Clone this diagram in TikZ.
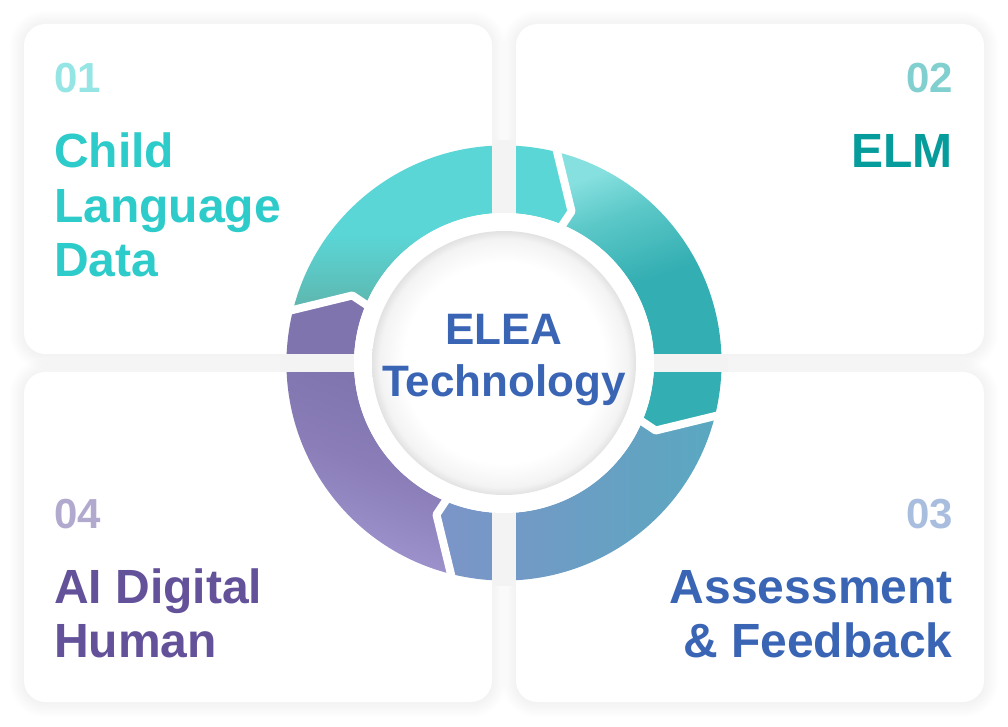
\documentclass[tikz,border=0pt]{standalone}
\usepackage{fontspec}
\setmainfont{Liberation Sans}
\definecolor{cA}{HTML}{95E5E5}
\definecolor{cAt}{HTML}{2ECBCB}
\definecolor{cB}{HTML}{82CFCF}
\definecolor{cBt}{HTML}{079C9C}
\definecolor{cC}{HTML}{A9BEDE}
\definecolor{cCt}{HTML}{3A65B5}
\definecolor{cD}{HTML}{B2A9CF}
\definecolor{cDt}{HTML}{63519A}
\definecolor{gapgray}{HTML}{F3F3F3}
\definecolor{rimgray}{HTML}{E2E2E2}
\definecolor{s1a}{HTML}{5AD6D6}
\definecolor{s1b}{HTML}{5CC6C2}
\definecolor{s1c}{HTML}{5EB3AA}
\definecolor{s2a}{HTML}{86E0DF}
\definecolor{s2b}{HTML}{5CC8C8}
\definecolor{s2c}{HTML}{33AEB2}
\definecolor{s3a}{HTML}{7C94C8}
\definecolor{s3b}{HTML}{5AA8C0}
\definecolor{s4a}{HTML}{7F74AE}
\definecolor{s4b}{HTML}{8A7DB8}
\definecolor{s4c}{HTML}{A298D2}
\pgfdeclareradialshading{discshade}{\pgfpoint{0bp}{0bp}}{color(0bp)=(white); color(19bp)=(white); color(23.5bp)=(white!60!rimgray); color(25bp)=(rimgray); color(50bp)=(rimgray)}
\pgfdeclareverticalshading{segone}{100bp}{color(0bp)=(s1c); color(25bp)=(s1c); color(36bp)=(s1b); color(46bp)=(s1a); color(100bp)=(s1a)}
\pgfdeclareverticalshading{segtwo}{100bp}{color(0bp)=(s2c); color(25bp)=(s2c); color(52bp)=(s2c); color(66bp)=(s2b); color(75bp)=(s2a); color(100bp)=(s2a)}
\pgfdeclareverticalshading{segfour}{100bp}{color(0bp)=(s4c); color(25bp)=(s4c); color(45bp)=(s4b); color(62bp)=(s4a); color(100bp)=(s4a)}
\newcommand\segpath[2]{(#1-13:217.5) arc[start angle=#1-13, end angle=#2-13, radius=217.5] -- (#2-24:166) -- (#2-22.5:150) arc[start angle=#2-22.5, end angle=#1-22.5, radius=150] -- (#1-24:166) -- cycle}
\begin{document}
\begin{tikzpicture}[x=0.75pt,y=0.75pt,
  card/.style={fill=white, rounded corners=16pt},
  sepline/.style={draw=white, line width=6pt, line join=round},
  numtxt/.style={inner sep=0pt, font=\fontsize{31.5}{36}\selectfont\bfseries},
  bigtxt/.style={inner sep=0pt, font=\fontsize{36}{40}\selectfont\bfseries},
  centxt/.style={inner sep=0pt, text=cCt, font=\fontsize{33}{38}\selectfont\bfseries}]
\useasboundingbox (0,0) rectangle (1008,726);
\fill[white] (0,0) rectangle (1008,726);
% soft card shadows
\foreach \k in {1,...,12}{
  \pgfmathsetmacro\rr{16+0.9*\k}
  \foreach \xa/\ya/\xb/\yb in {24/372/492/702, 516/372/984/702, 24/24/492/354, 516/24/984/354}{
    \fill[black, fill opacity=0.005, rounded corners=\rr pt] (\xa-1.2*\k,\ya-1.2*\k-1) rectangle (\xb+1.2*\k,\yb+1.2*\k-1);
  }
}
% cards
\path[card] (24,372) rectangle (492,702);
\path[card] (516,372) rectangle (984,702);
\path[card] (24,24) rectangle (492,354);
\path[card] (516,24) rectangle (984,354);
% ring
\begin{scope}[shift={(504,363)}]
  \shade[shading=segone] \segpath{180}{90};
  \shade[shading=segtwo, shading angle=20] \segpath{90}{0};
  \shade[left color=s3a, right color=s3b] \segpath{0}{-90};
  \shade[shading=segfour, shading angle=-20] \segpath{-90}{-180};
  \foreach \a in {90,0,-90,180}{
    \draw[sepline] (\a-13:226) -- (\a-24:166) -- (\a-22.5:144);
  }
\end{scope}
% gaps across the ring
\fill[gapgray] (492,140) rectangle (516,586);
\fill[gapgray] (280,354) rectangle (728,372);
% centre
\fill[white] (504,363) circle (150);
\shade[shading=discshade] (504,363) circle (132);
\node[centxt, anchor=base] (elea) at (504,381) {ELEA};
\node[centxt, anchor=base] (tech) at (504,329.3) {Technology};
% texts
\node[numtxt, text=cA, anchor=base west] (n1) at (54,633) {01};
\node[bigtxt, text=cAt, anchor=base west] (t1a) at (54,558) {Child};
\node[bigtxt, text=cAt, anchor=base west] (t1b) at (54,503.3) {Language};
\node[bigtxt, text=cAt, anchor=base west] (t1c) at (54,449.3) {Data};
\node[numtxt, text=cB, anchor=base east] (n2) at (953,633) {02};
\node[bigtxt, text=cBt, anchor=base east] (t2a) at (953,558) {ELM};
\node[numtxt, text=cC, anchor=base east] (n3) at (953,198) {03};
\node[bigtxt, text=cCt, anchor=base east] (t3a) at (953,122.7) {Assessment};
\node[bigtxt, text=cCt, anchor=base east] (t3b) at (953,69) {\& Feedback};
\node[numtxt, text=cD, anchor=base west] (n4) at (54,198) {04};
\node[bigtxt, text=cDt, anchor=base west] (t4a) at (54,122.7) {AI Digital};
\node[bigtxt, text=cDt, anchor=base west] (t4b) at (54,69) {Human};
\end{tikzpicture}
\end{document}
